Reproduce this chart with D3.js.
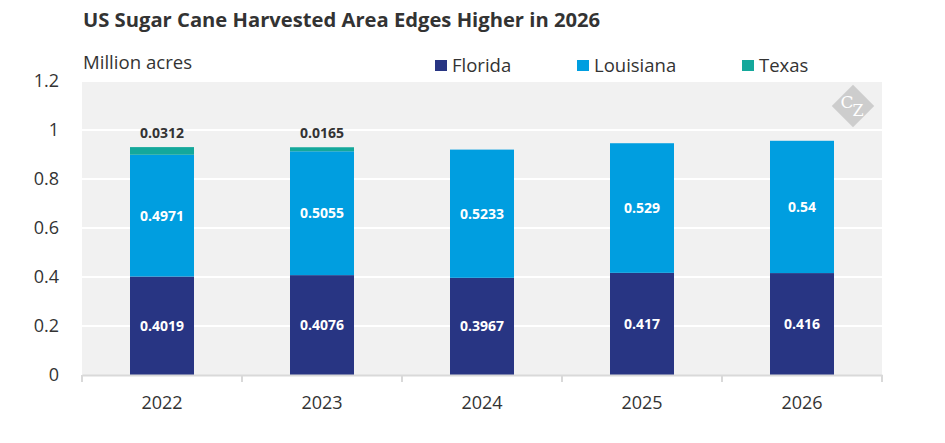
<!DOCTYPE html>
<html>
<head>
<meta charset="utf-8">
<script src="https://cdn.jsdelivr.net/npm/d3@7"></script>
<style>
  body { margin: 0; background: #fff; }
  svg text { font-family: "Open Sans", sans-serif; }
</style>
</head>
<body>
<svg id="chart" width="945" height="443"></svg>
<script>
// data
var years = ["2022", "2023", "2024", "2025", "2026"];
var florida = [0.4019, 0.4076, 0.3967, 0.417, 0.416];
var louisiana = [0.4971, 0.5055, 0.5233, 0.529, 0.54];
var texas = [0.0312, 0.0165, 0, 0, 0];
var seriesNames = ["Florida", "Louisiana", "Texas"];
var seriesColors = ["#283583", "#009ee0", "#14a89b"];
var yTicks = [0, 0.2, 0.4, 0.6, 0.8, 1, 1.2];

var svg = d3.select("#chart");
var plotL = 82, plotR = 882, plotT = 81, plotB = 375;

var x = d3.scaleBand().domain(years).range([plotL, plotR]);
var y = d3.scaleLinear().domain([0, 1.2]).range([plotB, plotT]);
var barW = 64;

// title
svg.append("text")
    .attr("x", 83).attr("y", 27)
    .style("font-size", "20.2px").style("font-weight", "bold")
    .style("fill", "#333")
    .text("US Sugar Cane Harvested Area Edges Higher in 2026");

svg.append("text")
    .attr("x", 83).attr("y", 69)
    .style("font-size", "18.6px").style("fill", "#333")
    .text("Million acres");

// legend
var legX = [435, 577, 742];
var leg = svg.selectAll(".leg").data(seriesNames).enter().append("g").attr("class", "leg");
leg.append("rect")
    .attr("x", function(d, i){ return legX[i]; })
    .attr("y", 60).attr("width", 12).attr("height", 11)
    .style("fill", function(d, i){ return seriesColors[i]; });
leg.append("text")
    .attr("x", function(d, i){ return legX[i] + 17; })
    .attr("y", 72)
    .style("font-size", "18.5px").style("fill", "#333")
    .text(function(d){ return d; });

// plot background + grid
svg.append("rect")
    .attr("x", plotL).attr("y", plotT)
    .attr("width", plotR - plotL).attr("height", plotB - plotT)
    .style("fill", "#f1f1f1");

svg.append("g").selectAll("line").data(yTicks.slice(1)).enter().append("line")
    .attr("x1", plotL).attr("x2", plotR)
    .attr("y1", function(d){ return y(d); }).attr("y2", function(d){ return y(d); })
    .style("stroke", "#fff").style("stroke-width", 2);

// logo
var logo = svg.append("g").attr("transform", "translate(853,106)");
logo.append("rect")
    .attr("x", -15).attr("y", -15).attr("width", 30).attr("height", 30)
    .attr("transform", "rotate(45)")
    .style("fill", "#cdcdcd");
logo.append("text")
    .attr("x", -6).attr("y", 2)
    .attr("text-anchor", "middle")
    .style("font-family", "'DejaVu Serif', serif").style("font-size", "17px")
    .style("fill", "#fff")
    .text("C");
logo.append("text")
    .attr("x", 5).attr("y", 10)
    .attr("text-anchor", "middle")
    .style("font-family", "'DejaVu Serif', serif").style("font-size", "16px")
    .style("fill", "#fff")
    .text("Z");

// stacked bars
var rows = years.map(function(yr, i){
  return {year: yr, Florida: florida[i], Louisiana: louisiana[i], Texas: texas[i]};
});
var stack = d3.stack().keys(seriesNames)(rows);

var layers = svg.append("g").selectAll("g").data(stack).enter().append("g")
    .style("fill", function(d, i){ return seriesColors[i]; });

layers.selectAll("rect").data(function(d){ return d; }).enter().append("rect")
    .attr("x", function(d){ return x(d.data.year) + x.bandwidth() / 2 - barW / 2; })
    .attr("width", barW)
    .attr("y", function(d){ return y(d[1]); })
    .attr("height", function(d){ return y(d[0]) - y(d[1]); });

// labels inside for Florida / Louisiana
stack.slice(0, 2).forEach(function(layer){
  svg.append("g").selectAll("text").data(layer).enter().append("text")
      .attr("x", function(d){ return x(d.data.year) + x.bandwidth() / 2; })
      .attr("y", function(d){ return y((d[0] + d[1]) / 2) + 5; })
      .attr("text-anchor", "middle")
      .style("font-size", "14px").style("font-weight", "bold")
      .style("fill", "#fff")
      .text(function(d){ return d.data[layer.key]; });
});

// Texas labels above bars
svg.append("g").selectAll("text").data(stack[2].filter(function(d){ return d.data.Texas > 0; }))
    .enter().append("text")
    .attr("x", function(d){ return x(d.data.year) + x.bandwidth() / 2; })
    .attr("y", function(d){ return y(d[1]) - 9; })
    .attr("text-anchor", "middle")
    .style("font-size", "14px").style("font-weight", "bold")
    .style("fill", "#333")
    .text(function(d){ return d.data.Texas; });

// axes
var xAxis = svg.append("g")
    .attr("transform", "translate(0," + plotB + ")")
    .call(d3.axisBottom(x).tickSize(0).tickPadding(21));
xAxis.select(".domain").style("stroke", "#d9d9d9").style("stroke-width", 2);
xAxis.selectAll("text").style("font-size", "18px").style("fill", "#333")
    .style("font-family", "'Open Sans', sans-serif");

// category separator ticks
svg.append("g").selectAll("line").data(years.concat(["end"])).enter().append("line")
    .attr("x1", function(d, i){ return plotL + i * x.bandwidth(); })
    .attr("x2", function(d, i){ return plotL + i * x.bandwidth(); })
    .attr("y1", plotB).attr("y2", plotB + 7)
    .style("stroke", "#d9d9d9").style("stroke-width", 2);

var yAxis = svg.append("g")
    .attr("transform", "translate(" + (plotL - 20) + ",0)")
    .call(d3.axisLeft(y).tickValues(yTicks).tickSize(0).tickFormat(d3.format("~g")));
yAxis.select(".domain").remove();
yAxis.selectAll("text").style("font-size", "18px").style("fill", "#333")
    .style("font-family", "'Open Sans', sans-serif");
</script>
</body>
</html>
